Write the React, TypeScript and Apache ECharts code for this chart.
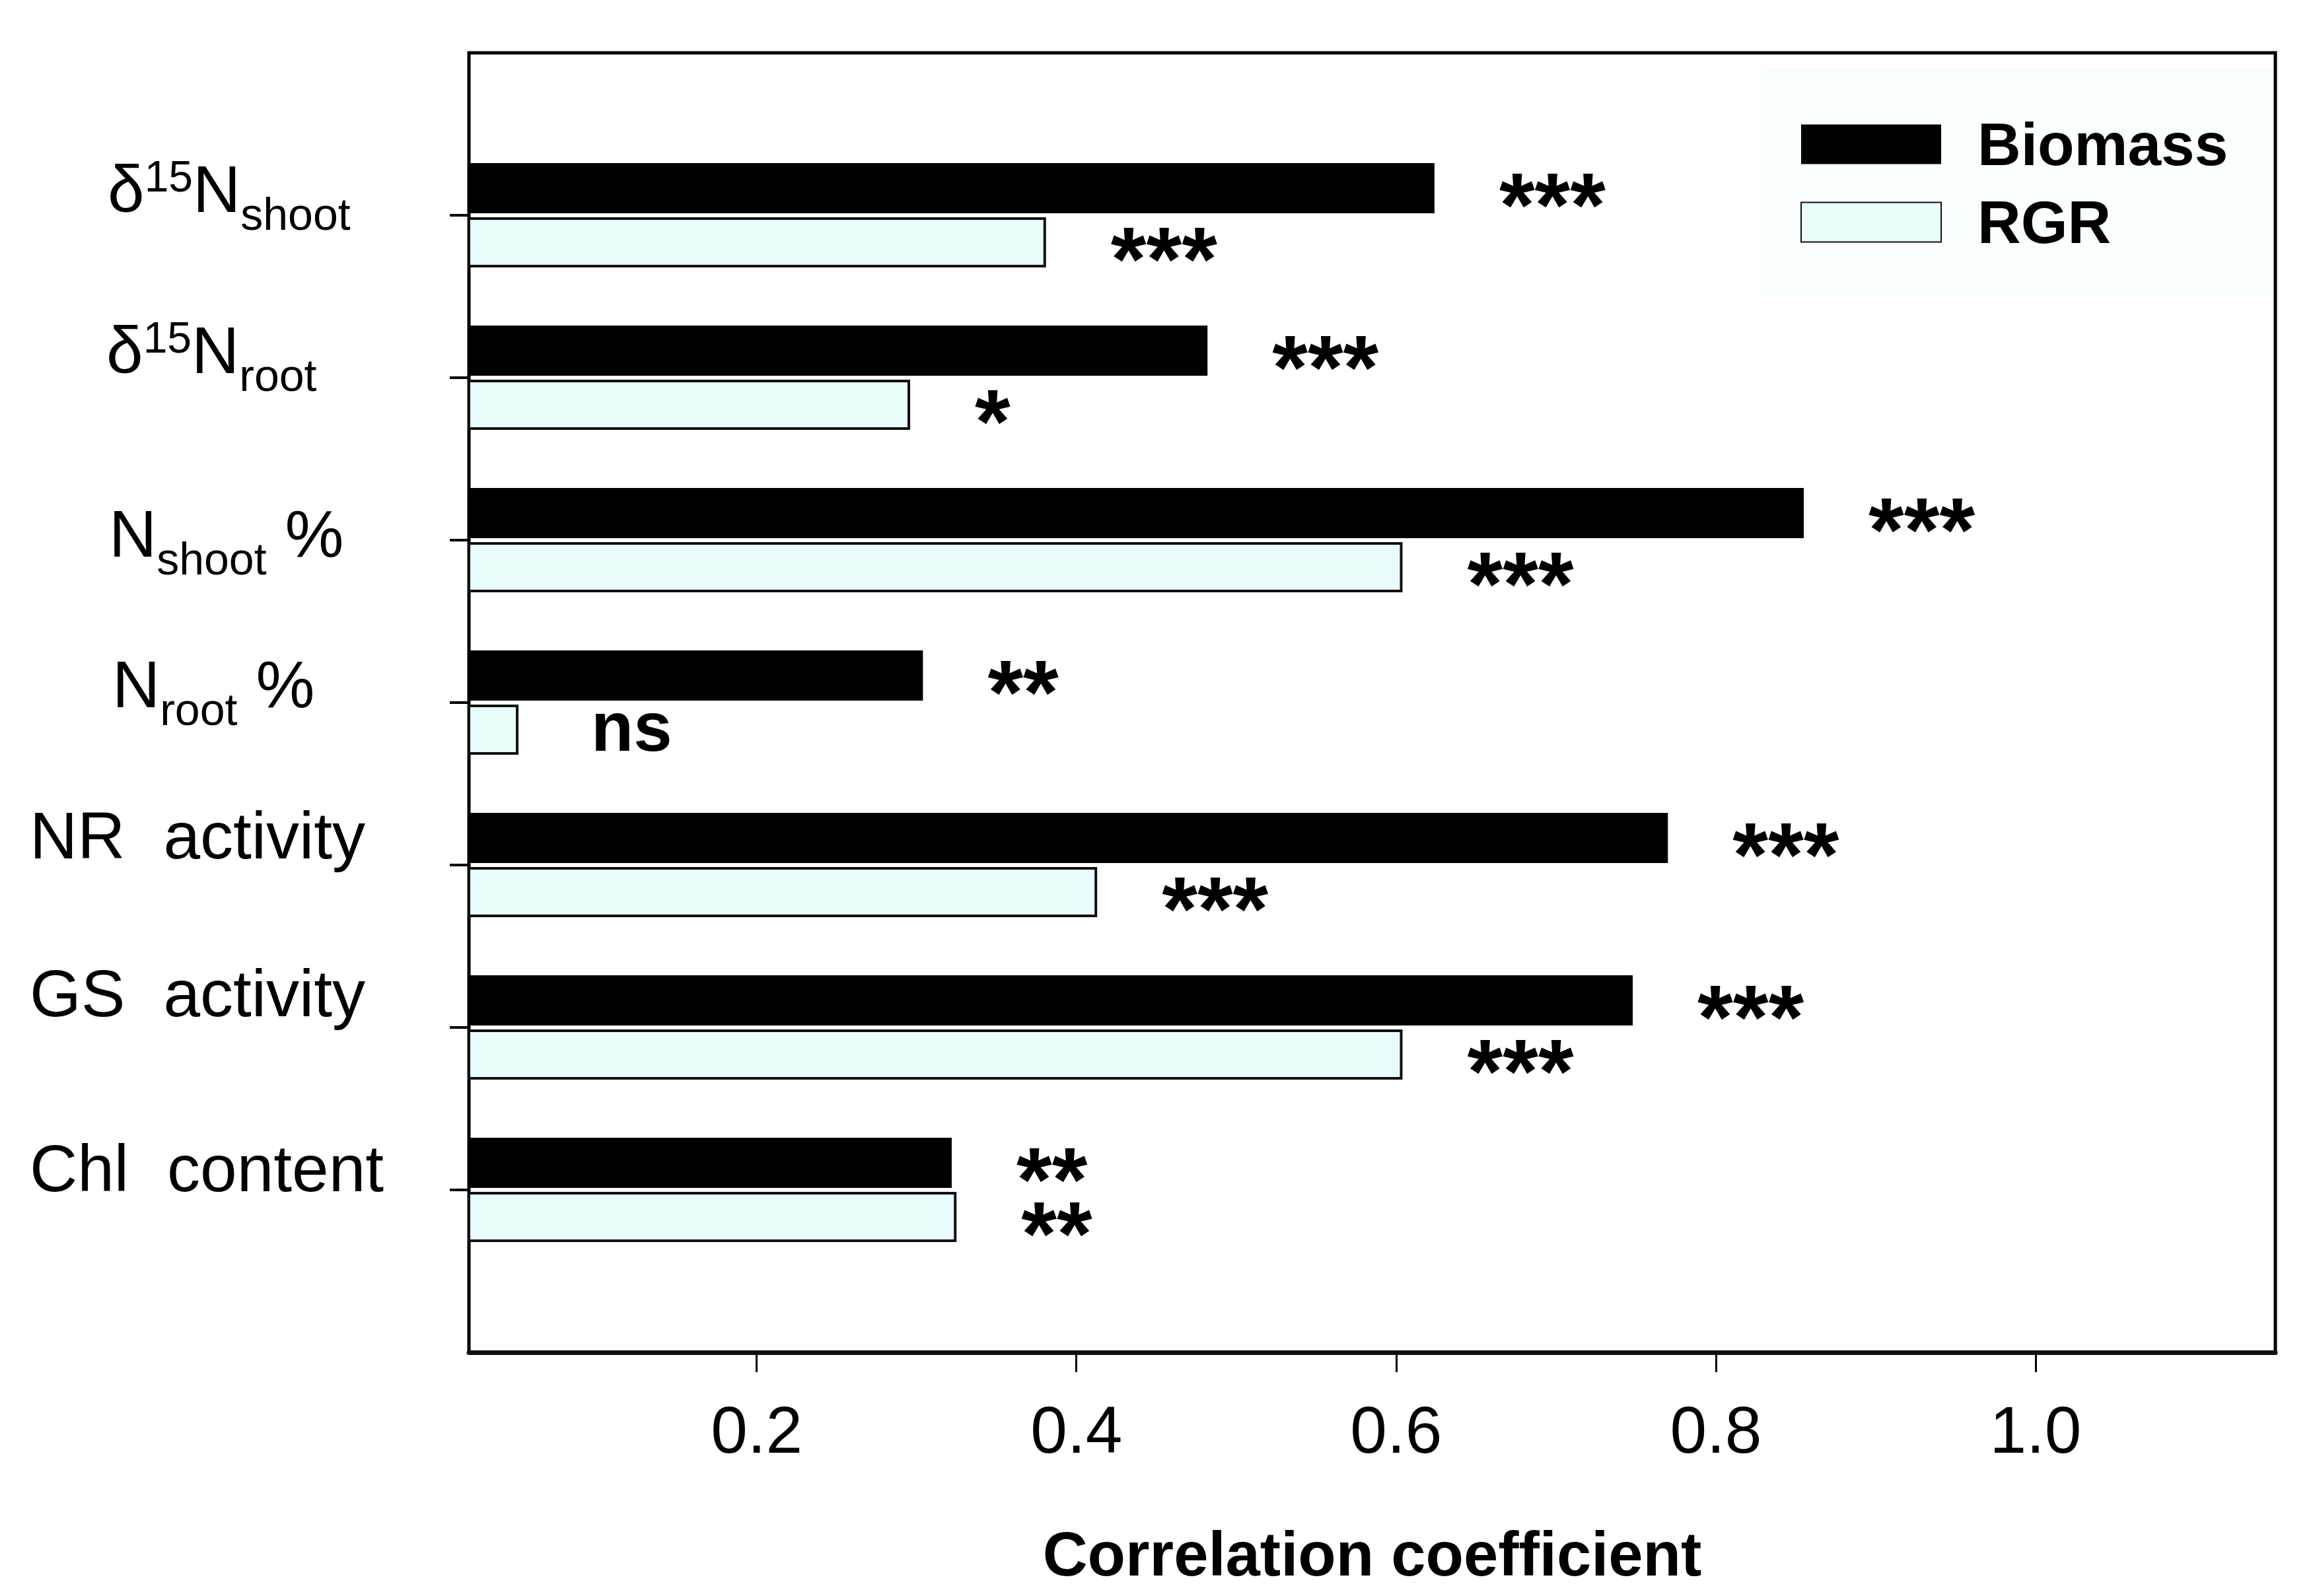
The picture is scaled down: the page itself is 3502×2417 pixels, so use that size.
import React, { useEffect, useRef } from 'react';
import * as echarts from 'echarts';

// ---- data ----
const categories = ['δ15Nshoot', 'δ15Nroot', 'Nshoot %', 'Nroot %', 'NR activity', 'GS activity', 'Chl content'];
// rich-text pieces for each category label: [text, role]  m = main, p = superscript, b = subscript, s = spaced word
const labelParts: [string, string][][] = [
  [['δ', 'm'], ['15', 'p'], ['N', 'm'], ['shoot', 'b']],
  [['δ', 'm'], ['15', 'p'], ['N', 'm'], ['root', 'b']],
  [['N', 'm'], ['shoot', 'b'], ['%', 'q']],
  [['N', 'm'], ['root', 'b'], ['%', 'q']],
  [['NR', 'm'], ['activity', 's']],
  [['GS', 'm'], ['activity', 's']],
  [['Chl', 'm'], ['content', 's']],
];
const seriesNames = ['Biomass', 'RGR'];
const biomass = [0.624, 0.482, 0.855, 0.304, 0.770, 0.748, 0.322];
const rgr = [0.381, 0.296, 0.604, 0.051, 0.413, 0.604, 0.325];
const biomassSig = ['***', '***', '***', '**', '***', '***', '**'];
const rgrSig = ['***', '*', '***', 'ns', '***', '***', '**'];
const xTicks = [0.2, 0.4, 0.6, 0.8, 1.0];

// ---- layout (not data) ----
const FONT = '"Liberation Sans", Arial, Helvetica, sans-serif';
const labelIndent = [118, 116, 120, 125, 0, 0, 0];
const labelBaseline = [-5, -7, 25, 7, -10, -17, 2];
const LH = 210;

function buildRich() {
  const rich: Record<string, any> = {};
  labelParts.forEach((_, i) => {
    const pm = Math.round(LH / 2 - 15.35 - labelBaseline[i]);
    const base = { fontFamily: FONT, color: '#000', lineHeight: LH, verticalAlign: 'bottom' };
    rich['a' + i] = { ...base, fontSize: 100, padding: [0, 0, pm, labelIndent[i]] };
    rich['m' + i] = { ...base, fontSize: 100, padding: [0, 0, pm, 0] };
    rich['s' + i] = { ...base, fontSize: 100, padding: [0, 0, pm, 58] };
    rich['q' + i] = { ...base, fontSize: 100, padding: [0, 0, pm, 28] };
    rich['p' + i] = { ...base, fontSize: 66, padding: [0, 0, pm + 36, 0] };
    rich['b' + i] = { ...base, fontSize: 68, padding: [0, 0, pm - 22, 0] };
  });
  return rich;
}

function sigLabel(s: string) {
  if (s === 'ns') {
    return {
      show: true, position: 'right', distance: 110, formatter: s,
      fontSize: 105, fontWeight: 'bold', color: '#000', fontFamily: FONT, offset: [0, -5],
    };
  }
  return {
    show: true, position: 'right', distance: 98, formatter: s,
    fontSize: 138, fontWeight: 'bold', color: '#000', fontFamily: FONT, offset: [0, 25],
  };
}

export default function App() {
  const ref = useRef<HTMLDivElement>(null);
  useEffect(() => {
    if (!ref.current) return;
    const chart = echarts.init(ref.current, null, { renderer: 'svg' });
    const option: any = {
      animation: false,
      backgroundColor: '#fff',
      textStyle: { fontFamily: FONT },
      legend: {
        data: seriesNames,
        orient: 'vertical',
        left: 2666,
        top: 103,
        padding: [70, 66, 68, 60],
        backgroundColor: '#FAFEFE',
        itemWidth: 212,
        itemHeight: 60,
        itemGap: 27,
        selectedMode: false,
        icon: 'rect',
        textStyle: {
          fontSize: 91, fontWeight: 'bold', color: '#000', fontFamily: FONT,
          padding: [0, 0, 0, 50],
        },
      },
      grid: [
        {
          left: 710, top: 80, width: 2735, height: 1968,
          show: true, borderColor: '#000', borderWidth: 5, backgroundColor: 'transparent',
          containLabel: false, outerBoundsMode: 'none',
        },
        {
          left: 710, top: 203, width: 2735, height: 1722,
          containLabel: false, outerBoundsMode: 'none',
        },
      ],
      xAxis: [
        {
          type: 'value', gridIndex: 0, min: 0.02, max: 1.15, position: 'bottom',
          axisLine: { show: true, lineStyle: { color: '#111', width: 7 } },
          axisTick: { show: true, length: 30, lineStyle: { color: '#000', width: 3 }, customValues: xTicks },
          axisLabel: {
            customValues: xTicks,
            formatter: (v: number) => v.toFixed(1),
            fontSize: 100, margin: 67, color: '#000', fontFamily: FONT,
          },
          splitLine: { show: false },
          name: 'Correlation coefficient',
          nameLocation: 'middle',
          nameGap: 258,
          nameTextStyle: { fontSize: 94, fontWeight: 'bold', color: '#000', fontFamily: FONT },
        },
        {
          type: 'value', gridIndex: 1, min: 0.02, max: 1.15, show: false,
          splitLine: { show: false },
        },
      ],
      yAxis: [
        { type: 'value', gridIndex: 0, min: 0, max: 1, show: false, splitLine: { show: false } },
        {
          type: 'category', gridIndex: 1, data: categories, inverse: true,
          axisLine: { show: false },
          axisTick: { show: true, alignWithLabel: true, interval: 0, length: 29, lineStyle: { color: '#000', width: 4 } },
          axisLabel: {
            interval: 0,
            align: 'left',
            margin: 665,
            fontSize: 100,
            color: '#000',
            fontFamily: FONT,
            formatter: (_v: string, index: number) =>
              labelParts[index].map(([t, r], k) => `{${k === 0 ? 'a' : r}${index}|${t}}`).join(''),
            rich: buildRich(),
          },
          splitLine: { show: false },
        },
      ],
      series: [
        {
          name: seriesNames[0], type: 'bar', xAxisIndex: 1, yAxisIndex: 1,
          barWidth: 76, barGap: '8%',
          itemStyle: { color: '#000' },
          data: biomass.map((v, i) => ({ value: v, label: sigLabel(biomassSig[i]) })),
        },
        {
          name: seriesNames[1], type: 'bar', xAxisIndex: 1, yAxisIndex: 1,
          barWidth: 76, barGap: '8%',
          itemStyle: { color: '#EAFDFD', borderColor: '#111', borderWidth: 4 },
          data: rgr.map((v, i) => ({ value: v, label: sigLabel(rgrSig[i]) })),
        },
      ],
    };
    chart.setOption(option);
    return () => chart.dispose();
  }, []);
  return (
    <div
      ref={ref}
      style={{ position: 'absolute', left: 0, top: 0, width: 3502, height: 2417 }}
    />
  );
}
